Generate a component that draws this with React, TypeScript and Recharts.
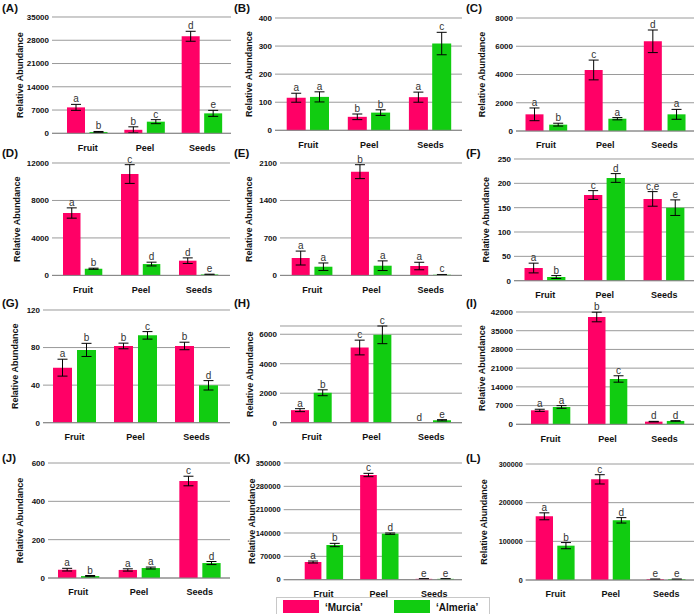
import { BarChart, Bar, XAxis, YAxis, CartesianGrid, ErrorBar, LabelList } from "recharts";

const categories = ["Fruit", "Peel", "Seeds"];
const panelNames = ["(A)", "(B)", "(C)", "(D)", "(E)", "(F)", "(G)", "(H)", "(I)", "(J)", "(K)", "(L)"];

const murciaValues = [
  [7800, 1050, 29200],
  [116, 48, 118],
  [1180, 4320, 6350],
  [6660, 10820, 1570],
  [324, 1938, 175],
  [26, 176, 168],
  [58.6, 81.7, 81.7],
  [850, 5100, 5],
  [5230, 40130, 1000],
  [43.5, 42, 506],
  [53000, 314000, 2500],
  [164700, 260300, 2000],
];
const almeriaValues = [
  [400, 3500, 6000],
  [119, 63, 309],
  [450, 870, 1180],
  [710, 1210, 100],
  [162, 181, 12],
  [7.5, 211, 150],
  [77.5, 93, 39.8],
  [2030, 5960, 165],
  [6480, 16950, 1250],
  [10, 52, 78],
  [104000, 138000, 2500],
  [88800, 154300, 2000],
];
const murciaErrors = [
  [900, 900, 1500],
  [16, 10, 18],
  [450, 700, 800],
  [550, 1000, 300],
  [130, 130, 70],
  [10, 9, 15],
  [9, 3, 4],
  [100, 500, 0],
  [400, 1800, 100],
  [7, 6, 25],
  [3000, 5000, 300],
  [9000, 12000, 300],
];
const almeriaErrors = [
  [150, 600, 900],
  [18, 10, 40],
  [100, 80, 350],
  [60, 200, 30],
  [70, 90, 5],
  [3, 9, 16],
  [7, 4, 5],
  [200, 600, 40],
  [500, 1200, 100],
  [3, 5, 8],
  [5000, 2000, 300],
  [8000, 7000, 300],
];
const murciaLetters = [
  ["a", "b", "d"], ["a", "b", "a"], ["a", "c", "d"], ["a", "c", "d"],
  ["a", "b", "a"], ["a", "c", "c,e"], ["a", "b", "b"], ["a", "c", "d"],
  ["a", "b", "d"], ["a", "a", "c"], ["a", "c", "e"], ["a", "c", "e"],
];
const almeriaLetters = [
  ["b", "c", "e"], ["a", "b", "c"], ["b", "a", "a"], ["b", "d", "e"],
  ["a", "a", "c"], ["b", "d", "e"], ["b", "c", "d"], ["b", "c", "e"],
  ["a", "c", "d"], ["b", "a", "d"], ["b", "d", "e"], ["b", "d", "e"],
];
const yTicks = [
  [0, 7000, 14000, 21000, 28000, 35000],
  [0, 100, 200, 300, 400],
  [0, 2000, 4000, 6000, 8000],
  [0, 4000, 8000, 12000],
  [0, 700, 1400, 2100],
  [0, 50, 100, 150, 200, 250],
  [0, 40, 80, 120],
  [0, 2000, 4000, 6000],
  [0, 7000, 14000, 21000, 28000, 35000, 42000],
  [0, 200, 400, 600],
  [0, 70000, 140000, 210000, 280000, 350000],
  [0, 100000, 200000, 300000],
];

// where each panel sits on the page
const layout = [
  { col: 0, plotLeft: 52, gridRight: 231, plotTop: 17, plotBottom: 133.3, padLeft: 7, padRight: 0, barSize: 18, barGap: 4.5, titleX: 20, tickFont: 8, labelY: 12 },
  { col: 232, plotLeft: 275, gridRight: 462, plotTop: 17.7, plotBottom: 130, padLeft: 2.7, padRight: 1, barSize: 19, barGap: 4.3, titleX: 249, tickFont: 8, labelY: 12 },
  { col: 464, plotLeft: 516, gridRight: 694, plotTop: 17.7, plotBottom: 130.7, padLeft: 0.5, padRight: 0, barSize: 18, barGap: 5.7, titleX: 482, tickFont: 8, labelY: 12 },
  { col: 0, plotLeft: 52, gridRight: 230, plotTop: 163.3, plotBottom: 275.7, padLeft: 2, padRight: 2, barSize: 17.5, barGap: 4.3, titleX: 17, tickFont: 8, labelY: 157 },
  { col: 232, plotLeft: 280, gridRight: 462, plotTop: 163.3, plotBottom: 275.7, padLeft: 2.7, padRight: 1.5, barSize: 18, barGap: 4.7, titleX: 249.5, tickFont: 8, labelY: 157 },
  { col: 464, plotLeft: 514, gridRight: 694, plotTop: 159, plotBottom: 280.7, padLeft: 1.5, padRight: 0, barSize: 18.3, barGap: 4.3, titleX: 485.7, tickFont: 8, labelY: 157 },
  { col: 0, plotLeft: 43, gridRight: 230, plotTop: 310, plotBottom: 422.7, padLeft: 1, padRight: 3, barSize: 19, barGap: 5, titleX: 15, tickFont: 8, labelY: 307 },
  { col: 232, plotLeft: 280, gridRight: 462, plotTop: 326, plotBottom: 422.7, padLeft: 2, padRight: 1, barSize: 18, barGap: 4.7, titleX: 249.5, tickFont: 8, labelY: 307 },
  { col: 464, plotLeft: 516, gridRight: 694, plotTop: 312, plotBottom: 424.3, padLeft: 6, padRight: 1, barSize: 17.5, barGap: 4.3, titleX: 482, tickFont: 8, labelY: 307 },
  { col: 0, plotLeft: 48, gridRight: 230, plotTop: 463.3, plotBottom: 578.3, padLeft: 0, padRight: 0, barSize: 18.3, barGap: 4.7, titleX: 20, tickFont: 8, labelY: 462 },
  { col: 232, plotLeft: 283.7, gridRight: 462, plotTop: 463.3, plotBottom: 580, padLeft: 12, padRight: 0, barSize: 16.7, barGap: 5, titleX: 252, tickFont: 7.5, labelY: 462 },
  { col: 464, plotLeft: 525.7, gridRight: 694, plotTop: 464, plotBottom: 580, padLeft: 2, padRight: 0, barSize: 17.3, barGap: 4.3, titleX: 484, tickFont: 7.2, labelY: 462 },
];

const FONT = '"Liberation Sans", Arial, sans-serif';
const PINK = "#ff0066";
const GREEN = "#11cc11";
const TOP_PAD = 22;
const XAXIS_H = 24;

// letter above the error bar: error size in px comes from the bar's own height/value ratio
const letterLabel = (vals: number[], errs: number[]) => (props: any) => {
  const vb = props.viewBox || props;
  const x = vb.x ?? props.x;
  const y = vb.y ?? props.y;
  const w = vb.width ?? props.width;
  const h = vb.height ?? props.height;
  const i = props.index;
  const v = vals[i];
  const e = errs[i];
  const top = Math.min(y, y + h);
  const errPx = v > 0 ? (e * Math.abs(h)) / v : 0;
  return (
    <text x={x + w / 2} y={top - errPx - 2} textAnchor="middle" fontSize={10} fontFamily={FONT} fill="#333">
      {props.value}
    </text>
  );
};

function Panel({ p }: { p: number }) {
  const L = layout[p];
  const ticks = yTicks[p];
  const data = categories.map((name, i) => ({
    name,
    murcia: murciaValues[p][i],
    almeria: almeriaValues[p][i],
    murciaErr: murciaErrors[p][i],
    almeriaErr: almeriaErrors[p][i],
    murciaLetter: murciaLetters[p][i],
    almeriaLetter: almeriaLetters[p][i],
  }));
  const width = L.gridRight - L.col + 1;
  const height = TOP_PAD + (L.plotBottom - L.plotTop) + XAXIS_H;
  const yWidth = L.plotLeft - L.col;

  return (
    <div style={{ position: "absolute", left: L.col, top: L.plotTop - TOP_PAD }}>
      <BarChart
        width={width}
        height={height}
        data={data}
        margin={{ top: TOP_PAD, right: 1, bottom: 0, left: 0 }}
        barGap={L.barGap}
        barSize={L.barSize}
        style={{ overflow: "visible" }}
      >
        <CartesianGrid vertical={false} stroke="#9a9a9a" strokeWidth={1} />
        <XAxis
          dataKey="name"
          height={XAXIS_H}
          tickLine={false}
          axisLine={{ stroke: "#888" }}
          tickMargin={5}
          padding={{ left: L.padLeft, right: L.padRight }}
          tick={{ fontSize: 9, fontWeight: "bold", fill: "#111", fontFamily: FONT }}
          interval={0}
        />
        <YAxis
          width={yWidth}
          domain={[0, ticks[ticks.length - 1]]}
          ticks={ticks}
          interval={0}
          tickLine={false}
          axisLine={false}
          tickSize={0}
          tickMargin={3}
          tick={{ fontSize: L.tickFont, fontWeight: "bold", fill: "#111", fontFamily: FONT }}
          label={{
            content: (lp: any) => {
              const vb = lp.viewBox;
              const cx = L.titleX - L.col;
              const cy = vb.y + vb.height / 2;
              return (
                <text
                  x={cx}
                  y={cy}
                  transform={`rotate(-90 ${cx} ${cy})`}
                  textAnchor="middle"
                  dominantBaseline="central"
                  fontSize={9}
                  fontWeight="bold"
                  fontFamily={FONT}
                  fill="#111"
                >
                  Relative Abundance
                </text>
              );
            },
          }}
        />
        <Bar dataKey="murcia" fill={PINK} isAnimationActive={false}>
          <ErrorBar dataKey="murciaErr" width={5} stroke="#000" strokeWidth={1} direction="y" />
          <LabelList dataKey="murciaLetter" content={letterLabel(murciaValues[p], murciaErrors[p])} />
        </Bar>
        <Bar dataKey="almeria" fill={GREEN} isAnimationActive={false}>
          <ErrorBar dataKey="almeriaErr" width={5} stroke="#000" strokeWidth={1} direction="y" />
          <LabelList dataKey="almeriaLetter" content={letterLabel(almeriaValues[p], almeriaErrors[p])} />
        </Bar>
      </BarChart>
    </div>
  );
}

export default function App() {
  return (
    <div
      style={{
        position: "absolute",
        left: 0,
        top: 0,
        width: 696,
        height: 614,
        background: "#fff",
        fontFamily: FONT,
        overflow: "hidden",
      }}
    >
      {layout.map((_, p) => (
        <Panel key={p} p={p} />
      ))}
      <svg width={696} height={614} style={{ position: "absolute", left: 0, top: 0, pointerEvents: "none" }}>
        {layout.map((L, p) => (
          <text key={p} x={L.col + 2} y={L.labelY} fontSize={11.5} fontWeight="bold" fontFamily={FONT} fill="#111">
            {panelNames[p]}
          </text>
        ))}
      </svg>
      {/* legend under panel K */}
      <div
        style={{
          position: "absolute",
          left: 276,
          top: 597,
          width: 214,
          height: 19,
          border: "1px solid #c8c8c8",
          boxSizing: "border-box",
        }}
      >
        <div style={{ position: "absolute", left: 6, top: 2, width: 36, height: 13, background: PINK }} />
        <div style={{ position: "absolute", left: 48, top: 3, fontSize: 10, fontWeight: "bold", color: "#111", lineHeight: "13px" }}>
          ‘Murcia’
        </div>
        <div style={{ position: "absolute", left: 117, top: 2, width: 36, height: 13, background: GREEN }} />
        <div style={{ position: "absolute", left: 159, top: 3, fontSize: 10, fontWeight: "bold", color: "#111", lineHeight: "13px" }}>
          ‘Almeria’
        </div>
      </div>
    </div>
  );
}
